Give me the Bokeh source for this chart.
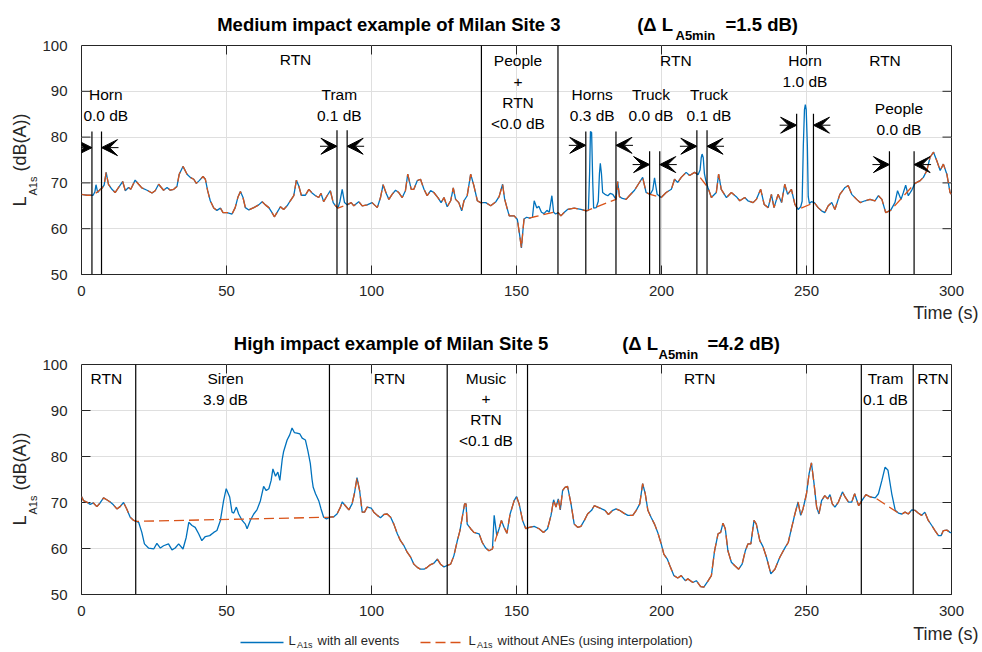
import math
from bokeh.plotting import figure
from bokeh.models import (Range1d, Label, Arrow, VeeHead, ColumnDataSource, SingleIntervalTicker)
from bokeh.layouts import column, row
from bokeh.embed import file_html
from bokeh.resources import INLINE

FONT = "Liberation Sans"
BLUE = "#0072BD"
ORANGE = "#D95319"
AX = "#262626"
GRID = "#dfdfdf"

# ---------------- data: top panel (Milan Site 3) ----------------
top_t = [0, 1, 2, 3, 4, 4.6, 5.0, 5.6, 6.4, 7.0, 7.8, 8.5, 9.3, 10.5, 11.6, 12.8, 14.2, 15.1, 16.2, 17.0,
         18.5, 19.7, 20.8, 22.6, 24.3, 25.4, 26.6, 28.3, 29.5, 30.6, 31.8, 32.9, 33.7, 35.0, 36.4, 37.5,
         38.7, 39.6, 40.6, 41.9, 42.7, 43.5, 44.4, 45.6, 46.7, 47.9, 48.8, 50.2, 51.9, 53.0, 53.9, 54.8,
         55.7, 56.5, 57.7, 59.4, 61.1, 62.3, 63.4, 64.6, 65.7, 66.5, 67.4, 68.6, 69.7, 70.9, 72.0, 73.2,
         74.1, 74.9, 75.8, 77.2, 78.4, 79.5, 80.7, 81.8, 82.6, 83.5, 84.7, 85.8, 86.8, 87.6, 88.4, 89.1,
         89.9, 90.7, 91.6, 93.0, 93.9, 95.6, 96.8, 98.5, 100.2, 102.0, 103.1, 104.0, 105.2, 106.0, 107.1,
         108.3, 109.4, 110.6, 111.7, 112.5, 113.7, 114.6, 115.8, 116.9, 118.1, 119.2, 120.4, 121.5, 122.9,
         124.0, 125.0, 126.1, 127.3, 128.2, 129.0, 130.1, 131.1, 131.9, 133.0, 134.2, 135.3, 136.5, 137.6,
         139.4, 141.1, 142.9, 144.0, 145.2, 145.9, 146.7, 147.5, 149.2, 150.3, 151.0, 151.7, 152.2, 152.6,
         153.5, 154.5, 155.5, 156.1, 157.0, 157.7, 158.6, 159.5, 160.5, 161.3, 162.2, 162.8, 163.5, 164.4,
         165.3, 166.5, 167.6, 169.9, 172.2, 174.1, 174.8, 175.2, 175.5, 175.9, 176.3, 176.6, 177.5, 178.2,
         178.6, 178.9, 179.3, 179.7, 180.5, 181.5, 182.3, 183.2, 184.3, 184.9, 185.5, 186.5, 187.8, 188.9,
         190.7, 192.0, 193.5, 194.7, 196.1, 197.0, 197.6, 198.5, 199.9, 201.6, 203.4, 204.5, 205.6, 206.8,
         208.5, 209.7, 211.4, 212.6, 213.3, 213.7, 214.0, 214.4, 214.8, 215.3, 216.0, 217.2, 218.9, 219.7,
         220.6, 222.4, 224.1, 225.8, 227.0, 228.7, 229.8, 231.6, 232.7, 234.2, 235.4, 236.8, 237.9, 238.8,
         240.2, 241.4, 242.5, 243.5, 244.8, 246.0, 247.1, 248.0, 248.5, 248.9, 249.3, 249.6, 249.9, 250.3,
         250.6, 251.0, 251.7, 252.7, 254.0, 255.2, 256.3, 257.5, 258.7, 259.8, 261.5, 263.3, 264.4, 265.6,
         267.3, 268.5, 270.2, 271.9, 273.6, 274.8, 276.0, 277.3, 279.0, 280.5, 281.4, 282.6, 283.4, 284.2,
         285.1, 286.2, 287.4, 289.2, 290.3, 291.5, 292.6, 293.8, 294.9, 296.1, 297.2, 298.4, 299.5, 300]
top_all = [67.5, 67.4, 67.3, 67.3, 67.3, 68.0, 69.6, 67.9, 68.6, 68.8, 69.5, 72.3, 69.7, 68.6, 67.9, 69.0, 70.3,
           68.3, 69.0, 68.6, 70.6, 69.7, 68.9, 68.4, 67.8, 68.3, 69.7, 68.4, 69.0, 68.4, 68.6, 69.2, 71.9,
           73.6, 71.9, 71.2, 70.8, 69.9, 70.5, 71.4, 70.8, 68.3, 66.1, 64.5, 64.0, 64.5, 63.5, 63.5, 63.2,
           64.6, 66.8, 68.1, 66.8, 64.6, 64.1, 64.6, 65.2, 65.9, 65.2, 64.6, 63.5, 62.6, 63.5, 64.8, 64.2,
           65.0, 66.1, 67.2, 70.6, 69.4, 67.3, 67.3, 68.6, 67.8, 67.2, 66.8, 67.7, 65.9, 67.2, 68.3, 65.7,
           65.0, 64.5, 65.9, 68.6, 65.7, 65.2, 65.7, 65.0, 65.9, 65.0, 65.2, 65.7, 64.6, 66.8, 69.6, 67.5,
           66.4, 67.5, 68.4, 67.9, 66.8, 68.3, 71.9, 68.6, 68.6, 70.5, 70.8, 68.6, 67.2, 68.3, 67.9, 66.8,
           65.7, 66.8, 64.8, 66.1, 68.9, 66.4, 65.7, 63.9, 66.1, 67.2, 71.9, 69.4, 66.1, 65.7, 65.7, 65.0,
           65.9, 67.0, 69.7, 66.5, 64.6, 62.8, 62.8, 62.0, 59.0, 55.8, 59.5, 62.1, 62.5, 62.3, 62.5, 66.1,
           64.5, 64.9, 63.6, 63.3, 64.0, 63.6, 67.2, 63.6, 63.2, 63.5, 62.8, 63.6, 64.2, 64.5, 64.2, 63.9,
           64.0, 72.0, 81.2, 81.0, 70.0, 64.5, 64.6, 66.0, 72.0, 74.3, 72.0, 67.9, 67.5, 67.2, 67.7, 67.5,
           66.4, 70.3, 67.0, 66.6, 66.4, 67.2, 68.4, 69.7, 71.2, 67.9, 67.5, 68.5, 71.1, 67.5, 66.8, 67.9,
           68.6, 70.8, 70.1, 71.2, 72.3, 71.6, 72.3, 71.8, 72.8, 75.5, 76.3, 75.5, 72.0, 70.5, 69.0, 66.8,
           67.9, 71.9, 68.6, 66.8, 67.9, 67.0, 66.1, 66.8, 66.1, 65.7, 66.4, 68.6, 65.3, 64.6, 67.5, 64.6,
           67.5, 65.7, 69.7, 67.5, 68.6, 65.3, 64.2, 64.8, 66.0, 78.0, 86.0, 87.1, 86.0, 78.0, 67.0, 65.5,
           65.9, 65.7, 64.6, 63.9, 63.5, 65.0, 65.7, 64.2, 67.5, 69.0, 69.4, 67.5, 66.4, 65.7, 66.1, 66.4,
           66.1, 67.2, 66.4, 63.5, 64.0, 65.7, 68.3, 66.4, 67.9, 69.5, 67.2, 68.3, 69.9, 70.5, 71.2, 72.7,
           75.6, 76.7, 74.9, 72.7, 74.1, 71.9, 67.9, 67.5]
# intervals (s) bridged by the interpolated curve
top_gaps = [(4.0, 7.0), (88.4, 91.6), (155.5, 162.8), (174.1, 184.3), (196.1, 199.9),
            (212.6, 216.0), (247.1, 252.7), (279.0, 287.4)]
# event boundaries with arrows
top_ev_start = [3.6, 88.1, 173.9, 195.9, 212.2, 246.6, 278.6]
top_ev_end = [6.9, 91.6, 184.3, 199.4, 215.7, 252.4, 287.1]
top_ev_top = [81.2, 81.5, 81.2, 76.9, 81.5, 85.1, 76.9]
top_ev_arrow = [77.7, 78.0, 78.2, 74.0, 78.0, 82.6, 74.0]
top_sep = [137.9, 164.3]

# ---------------- data: bottom panel (Milan Site 5) ----------------
bot_t = [0, 0.7, 1.8, 3.0, 4.1, 5.3, 6.4, 7.6, 8.7, 9.9, 11.0, 12.2, 13.3, 14.5, 15.6, 16.8, 18.0, 18.9,
         19.7, 20.8, 21.7, 23.1, 24.9, 26.0, 27.2, 28.3, 30.0, 31.2, 32.3, 33.5, 35.0, 36.1, 37.0, 38.1,
         39.2, 40.4, 41.5, 42.7, 44.2, 45.6, 46.7, 47.9, 49.0, 49.9, 51.1, 51.9, 52.5, 53.4, 54.2, 55.4,
         56.5, 57.1, 58.2, 59.4, 60.5, 61.7, 62.8, 63.7, 64.6, 65.4, 66.0, 66.9, 67.7, 68.4, 69.2, 69.7,
         70.9, 71.8, 72.6, 73.4, 74.3, 75.3, 76.1, 77.2, 78.1, 78.9, 79.5, 79.9, 80.7, 81.8, 82.6, 83.5,
         84.5, 85.6, 87.0, 88.1, 89.3, 89.9, 91.0, 92.2, 93.3, 94.1, 95.0, 95.9, 96.8, 97.6, 98.5, 99.9,
         100.8, 102.0, 103.1, 104.3, 105.4, 106.6, 107.7, 108.9, 110.0, 111.2, 112.3, 113.5, 114.6, 115.8,
         116.9, 118.1, 119.2, 120.4, 121.5, 122.7, 123.8, 125.0, 126.1, 127.3, 128.4, 129.6, 130.5, 131.3,
         132.1, 132.6, 133.0, 134.2, 135.3, 137.1, 138.2, 139.4, 140.5, 141.7, 142.3, 143.2, 144.0, 144.8,
         145.7, 146.7, 147.8, 149.2, 150.0, 150.9, 152.1, 153.2, 154.4, 156.1, 157.8, 159.3, 160.7, 161.9,
         162.8, 163.6, 164.4, 165.1, 165.9, 166.7, 167.6, 168.8, 169.9, 171.1, 172.2, 173.4, 174.5, 175.9,
         176.8, 178.0, 179.4, 180.5, 181.7, 183.2, 184.3, 185.5, 187.0, 188.4, 190.1, 191.3, 192.5, 193.5,
         194.4, 195.3, 196.4, 197.6, 198.7, 199.9, 200.8, 202.0, 203.1, 204.3, 205.6, 206.8, 208.2, 209.1,
         210.8, 212.0, 213.5, 214.6, 216.0, 217.2, 218.3, 219.5, 220.4, 221.2, 222.0, 222.9, 224.1, 225.2,
         226.6, 227.8, 228.9, 229.8, 230.8, 231.9, 232.7, 233.9, 235.0, 236.2, 237.7, 239.1, 240.8, 242.6,
         243.7, 244.8, 246.0, 247.1, 248.0, 248.8, 250.0, 250.9, 251.7, 252.6, 253.5, 254.3, 255.2, 256.3,
         257.3, 258.1, 258.9, 259.8, 261.0, 262.4, 263.3, 264.5, 265.6, 266.6, 268.0, 269.1, 270.5, 272.0,
         273.7, 274.8, 276.0, 277.1, 278.1, 279.4, 280.6, 281.7, 282.9, 284.0, 285.1, 286.3, 287.4, 288.5,
         289.7, 290.8, 292.0, 293.2, 294.3, 295.5, 296.4, 297.2, 298.4, 299.5, 300]
bot_all = [71.3, 70.4, 70.1, 69.6, 69.9, 69.1, 69.9, 71.0, 70.6, 70.1, 69.5, 68.6, 69.1, 70.0, 68.6, 66.8,
           66.1, 65.9, 65.7, 63.5, 61.0, 60.1, 59.9, 61.1, 60.1, 60.6, 61.0, 59.7, 60.1, 61.0, 59.9, 62.4,
           65.7, 65.0, 64.6, 63.2, 61.7, 62.6, 62.8, 63.5, 63.9, 66.1, 70.4, 73.0, 71.2, 67.9, 67.7, 69.0,
           67.5, 66.1, 65.3, 64.3, 66.1, 67.5, 68.4, 70.4, 73.5, 72.6, 73.0, 74.8, 77.3, 75.7, 76.6, 74.8,
           79.3, 81.1, 83.6, 84.7, 86.2, 85.2, 85.1, 84.9, 84.0, 83.6, 81.1, 78.5, 75.0, 73.3, 71.9, 70.4,
           68.6, 66.8, 66.4, 66.8, 66.9, 67.5, 69.0, 70.1, 69.3, 68.4, 69.7, 71.9, 75.4, 72.6, 67.9, 67.9,
           69.0, 68.8, 67.9, 67.2, 66.7, 67.4, 67.5, 66.8, 65.3, 63.2, 61.7, 60.6, 59.2, 58.1, 56.6, 55.9,
           55.5, 55.5, 55.9, 56.5, 56.8, 57.7, 56.6, 56.0, 56.3, 56.6, 58.4, 61.7, 63.9, 66.8, 69.7, 69.7,
           65.3, 64.3, 63.5, 63.2, 61.3, 60.1, 59.5, 59.9, 67.2, 62.8, 64.3, 66.1, 64.6, 63.3, 67.5, 70.4,
           71.3, 69.7, 66.1, 64.3, 64.6, 64.8, 64.3, 63.5, 64.3, 67.2, 70.6, 69.0, 70.8, 68.4, 72.6, 73.3,
           73.5, 69.7, 65.3, 64.6, 64.8, 66.1, 67.5, 68.3, 69.3, 69.0, 68.6, 68.3, 67.4, 68.3, 68.6, 68.3,
           67.7, 67.2, 67.2, 68.3, 69.7, 74.1, 71.9, 68.3, 66.8, 65.3, 63.5, 61.0, 58.8, 57.7, 55.9, 54.1,
           53.6, 54.1, 53.0, 53.4, 52.6, 53.0, 51.7, 51.6, 52.9, 54.1, 59.5, 63.2, 63.5, 65.5, 64.3, 59.5,
           57.0, 56.3, 55.5, 56.6, 59.5, 61.0, 61.0, 66.1, 65.3, 61.7, 60.4, 58.1, 54.5, 55.5, 58.1, 60.2,
           61.3, 64.3, 67.5, 70.1, 67.2, 68.6, 71.9, 76.3, 78.6, 74.1, 69.0, 67.5, 70.4, 71.5, 70.8, 71.7,
           69.7, 69.0, 70.1, 72.3, 71.2, 70.1, 70.1, 71.9, 69.3, 70.4, 71.7, 71.2, 71.0, 71.9, 74.8, 77.7,
           77.0, 71.9, 68.3, 67.7, 67.5, 67.9, 67.5, 68.4, 68.3, 67.7, 67.2, 67.9, 66.1, 65.0, 63.9, 62.8,
           62.8, 63.9, 64.0, 63.5, 63.4]
bot_gaps = [(18.9, 85.6), (141.7, 143.2), (273.7, 281.7)]
bot_sep = [18.7, 85.5, 126.1, 153.8, 268.9, 286.8]

x_ticks = [0, 50, 100, 150, 200, 250, 300]
y_ticks = [50, 60, 70, 80, 90, 100]

# ---------------- text ----------------
top_title = ["Medium impact example of Milan Site 3", "(\u0394 L", "A5min", "=1.5 dB)"]
bot_title = ["High impact example of Milan Site 5", "(\u0394 L", "A5min", "=4.2 dB)"]
top_labels = ["RTN", "Horn\n0.0 dB", "Tram\n0.1 dB", "People\n+\nRTN\n<0.0 dB", "RTN", "Horns\n0.3 dB",
              "Truck\n0.0 dB", "Truck\n0.1 dB", "Horn\n1.0 dB", "RTN", "People\n0.0 dB"]
bot_labels = ["RTN", "Siren\n3.9 dB", "RTN", "Music\n+\nRTN\n<0.1 dB", "RTN", "Tram\n0.1 dB", "RTN"]
y_label = ["L", "A1s", "(dB(A))"]
x_label = "Time (s)"
legend_texts = ["with all events", "without ANEs (using interpolation)"]

# ---------------- layout (page pixels) ----------------
top_label_pos = [(295, 61), (105.3, 96), (338.8, 96), (517.5, 62.5), (675.3, 62.5), (591.7, 96),
                 (650.5, 96), (708.5, 96), (804.5, 62.5), (884.5, 62.5), (898.5, 110)]
bot_label_pos = [(105.8, 380), (225, 380), (389, 380), (485.5, 380), (699.2, 380), (885, 380), (932.5, 380)]
ROW = 20.8
PAGE_W = 982
YLAB_W = 40          # strip holding the rotated y label
YAX_W = 35           # strip holding the y tick labels
MAIN_X0 = YLAB_W + YAX_W
BASE_FIX = 0.36      # em: renderer draws 'alphabetic' text this much lower than asked
MID_FIX = 0.14       # em: same for 'middle'


class Frame:
    """maps page pixels to data coordinates of a main panel"""
    def __init__(self, left, right, top, bottom):
        self.left, self.right, self.top, self.bottom = left, right, top, bottom

    def x(self, px):
        return 300.0 * (px - self.left) / (self.right - self.left)

    def y(self, py):
        return 50.0 + 50.0 * (self.bottom - py) / (self.bottom - self.top)


class Offset:
    """maps page pixels to an auxiliary (pixel-ranged) figure"""
    def __init__(self, ox, oy):
        self.ox, self.oy = ox, oy

    def x(self, px):
        return px - self.ox

    def y(self, py):
        return py - self.oy


def without_anes(t, v, gaps):
    keep = [not any(a < ti < b for a, b in gaps) for ti in t]
    return ([ti for ti, k in zip(t, keep) if k], [vi for vi, k in zip(v, keep) if k])


def label(p, fr, text, px, py, size, align="left", baseline="alphabetic", bold=False, angle=0.0,
          color="black"):
    fix = (BASE_FIX if baseline == "alphabetic" else MID_FIX) * size
    if angle == 0.0:
        py = py - fix
    else:
        px = px - fix
    p.add_layout(Label(x=fr.x(px), y=fr.y(py), text=text, text_font=FONT,
                       text_font_size=f"{size}px", text_align=align, text_baseline=baseline,
                       text_font_style="bold" if bold else "normal", angle=angle,
                       text_color=color))


def aux_fig(width, height):
    p = figure(width=width, height=height, x_range=Range1d(0, width), y_range=Range1d(height, 0),
               output_backend="svg", toolbar_location=None, x_axis_type=None, y_axis_type=None,
               min_border_left=0, min_border_right=0, min_border_top=0, min_border_bottom=0)
    p.outline_line_color = None
    p.background_fill_color = "white"
    p.border_fill_color = "white"
    return p


def shield(fig):
    """wrap a helper figure so its frame is not aligned with neighbouring plots"""
    return row(fig)


def yaxis_fig(height, y_range, fr, top_px):
    """narrow figure carrying only the y tick labels of a panel (shares its y range)"""
    p = figure(width=YAX_W, height=height, x_range=Range1d(0, 1), y_range=y_range,
               output_backend="svg", toolbar_location=None, x_axis_type=None,
               min_border_left=YAX_W - 1, min_border_right=0,
               min_border_top=fr.top - top_px, min_border_bottom=top_px + height - fr.bottom)
    p.outline_line_color = None
    p.background_fill_color = "white"
    p.border_fill_color = "white"
    p.ygrid.visible = False
    ax = p.yaxis[0]
    ax.ticker = SingleIntervalTicker(interval=10)
    ax.axis_line_color = None
    ax.major_tick_line_color = None
    ax.minor_tick_line_color = None
    ax.major_tick_in = 0
    ax.major_tick_out = 0
    ax.major_label_standoff = 4
    ax.major_label_text_font = FONT
    ax.major_label_text_font_size = "15px"
    ax.major_label_text_color = AX
    return p


def main_fig(height, btop, bbottom, fr):
    p = figure(width=PAGE_W - MAIN_X0, height=height, x_range=Range1d(0, 300), y_range=Range1d(50, 100),
               output_backend="svg", toolbar_location=None, y_axis_location=None,
               min_border_left=fr.left - MAIN_X0, min_border_right=PAGE_W - fr.right,
               min_border_top=btop, min_border_bottom=bbottom)
    p.background_fill_color = "white"
    p.border_fill_color = "white"
    p.outline_line_color = AX
    ax = p.xaxis[0]
    ax.ticker = SingleIntervalTicker(interval=50)
    ax.axis_line_color = AX
    ax.major_tick_line_color = AX
    ax.major_tick_in = 9
    ax.major_tick_out = 0
    ax.minor_tick_line_color = None
    ax.major_label_text_font = FONT
    ax.major_label_text_font_size = "15px"
    ax.major_label_text_color = AX
    ax.major_label_standoff = 7
    p.xgrid.grid_line_color = GRID
    p.ygrid.grid_line_color = GRID
    p.xgrid.ticker = SingleIntervalTicker(interval=50)
    p.ygrid.ticker = SingleIntervalTicker(interval=10)
    # inward ticks on the top, left and right edges of the box
    tl_y = 9 * 50.0 / (fr.bottom - fr.top)
    tl_x = 9 * 300.0 / (fr.right - fr.left)
    xt = x_ticks[1:-1]
    yt = y_ticks[1:-1]
    p.segment(x0=xt, y0=[100] * len(xt), x1=xt, y1=[100 - tl_y] * len(xt), line_color=AX, line_width=1)
    p.segment(x0=[300] * len(yt), y0=yt, x1=[300 - tl_x] * len(yt), y1=yt, line_color=AX, line_width=1)
    p.segment(x0=[0] * len(yt), y0=yt, x1=[tl_x] * len(yt), y1=yt, line_color=AX, line_width=1)
    return p


def event_labels(p, fr, texts, positions):
    for txt, (px, py) in zip(texts, positions):
        for i, line in enumerate(txt.split("\n")):
            label(p, fr, line, px, py + i * ROW, 15.5, align="center", baseline="middle")


def title(p, fr, parts, xs, base):
    label(p, fr, parts[0], xs[0], base, 18.5, bold=True)
    label(p, fr, parts[1], xs[1], base, 18.5, bold=True)
    label(p, fr, parts[2], xs[2], base + 8.7, 13, bold=True)
    label(p, fr, parts[3], xs[3], base, 18.5, bold=True)


def ylabel(p, fr, dy):
    label(p, fr, y_label[0], 26.2, 206 + dy, 18, angle=math.pi / 2, color=AX)
    label(p, fr, y_label[1], 36, 195 + dy, 11, angle=math.pi / 2, color=AX)
    label(p, fr, y_label[2], 26.2, 171 + dy, 18, angle=math.pi / 2, color=AX)


dx_arrow = 17 * 300.0 / 870
RIGHT_W = PAGE_W - MAIN_X0

# ================= top section (page y 0-300) =================
fr1 = Frame(81, 951, 45, 274)
bandA = aux_fig(RIGHT_W, 43)                     # title 1, page y 0-43
title(bandA, Offset(MAIN_X0, 0), top_title, (216.7, 636.7, 675, 725), 30.6)

p1 = main_fig(257, 2, 26, fr1)                   # page y 43-300
p1.line(top_t, top_all, line_color=BLUE, line_width=1.3)
ot, ov = without_anes(top_t, top_all, top_gaps)
p1.line(ot, ov, line_color=ORANGE, line_width=1.3, line_dash="10 5")
ev_x = top_ev_start + top_ev_end
ev_top = top_ev_top + top_ev_top
p1.segment(x0=ev_x, y0=[50] * len(ev_x), x1=ev_x, y1=ev_top, line_color="black", line_width=1.2)
p1.segment(x0=top_sep, y0=[50] * len(top_sep), x1=top_sep, y1=[100] * len(top_sep),
           line_color="black", line_width=1.2)
arr_src = ColumnDataSource(dict(
    xs=[s - dx_arrow for s in top_ev_start] + [e + dx_arrow for e in top_ev_end],
    xe=top_ev_start + top_ev_end,
    y=top_ev_arrow + top_ev_arrow))
p1.add_layout(Arrow(end=VeeHead(size=16, fill_color="black", line_color="black", line_width=1),
                    x_start="xs", y_start="y", x_end="xe", y_end="y", source=arr_src,
                    line_color="black", line_width=1))
event_labels(p1, fr1, top_labels, top_label_pos)

yl1 = aux_fig(YLAB_W, 300)
ylabel(yl1, Offset(0, 0), 0)
ya1 = yaxis_fig(300, p1.y_range, fr1, 0)
top_section = row(shield(yl1), shield(ya1), column(shield(bandA), p1))

# ================= bottom section (page y 300-622) =================
fr2 = Frame(81, 951, 364, 594)
bandC = aux_fig(RIGHT_W, 63)                     # x label 1 + title 2, page y 300-363
oC = Offset(MAIN_X0, 300)
label(bandC, oC, x_label, 978, 319, 18, align="right", color=AX)
title(bandC, oC, bot_title, (233.3, 621.7, 658, 707), 350)

p2 = main_fig(259, 1, 28, fr2)                   # page y 363-622
p2.line(bot_t, bot_all, line_color=BLUE, line_width=1.3)
ot2, ov2 = without_anes(bot_t, bot_all, bot_gaps)
p2.line(ot2, ov2, line_color=ORANGE, line_width=1.3, line_dash="10 5")
p2.segment(x0=bot_sep, y0=[50] * len(bot_sep), x1=bot_sep, y1=[100] * len(bot_sep),
           line_color="black", line_width=1.2)
event_labels(p2, fr2, bot_labels, bot_label_pos)

yl2 = aux_fig(YLAB_W, 322)
ylabel(yl2, Offset(0, 300), 319)
ya2 = yaxis_fig(322, p2.y_range, fr2, 300)
bottom_section = row(shield(yl2), shield(ya2), column(shield(bandC), p2))

# ================= band E: x label 2 + legend (page y 622-650) =================
bandE = aux_fig(PAGE_W, 28)
oE = Offset(0, 622)
label(bandE, oE, x_label, 978, 639.6, 18, align="right", color=AX)
leg_y = oE.y(642)
bandE.line([oE.x(240), oE.x(283)], [leg_y, leg_y], line_color=BLUE, line_width=1.3)
bandE.line([oE.x(420), oE.x(463)], [leg_y, leg_y], line_color=ORANGE, line_width=1.3, line_dash="10 5")
for lx, txt in ((288, legend_texts[0]), (468, legend_texts[1])):
    label(bandE, oE, y_label[0], lx, 645, 13, color=AX)
    label(bandE, oE, y_label[1], lx + 8.5, 647.6, 9, color=AX)
    label(bandE, oE, txt, lx + 29, 645, 13, color=AX)

layout = column(top_section, bottom_section, shield(bandE))
open("out.html", "w").write(file_html(layout, INLINE))
